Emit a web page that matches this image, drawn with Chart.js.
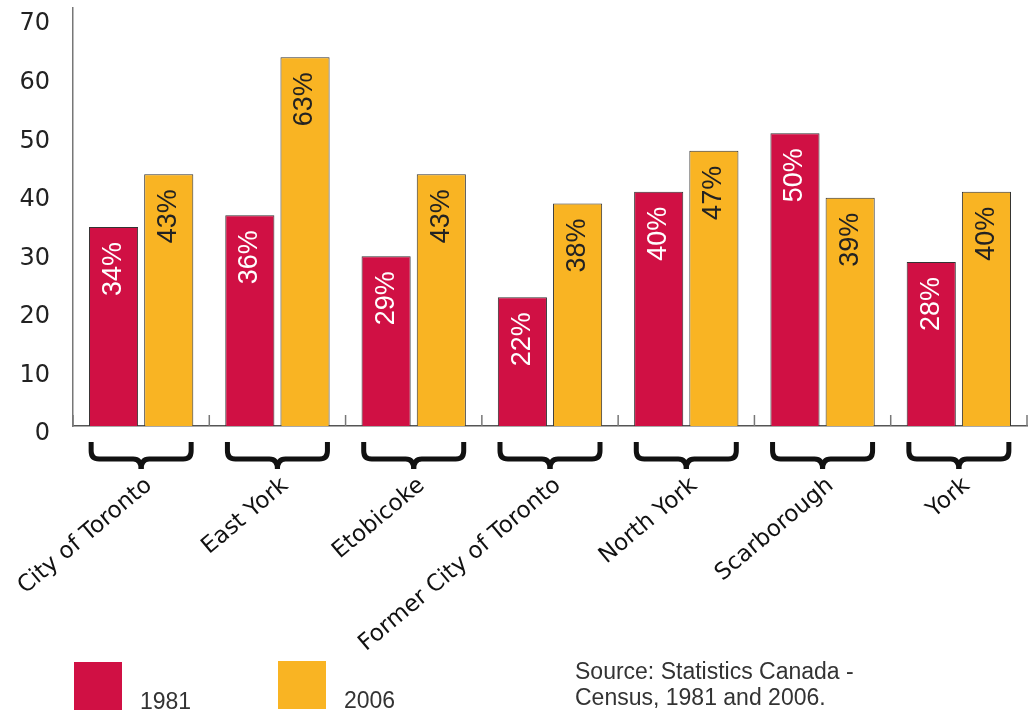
<!DOCTYPE html>
<html>
<head>
<meta charset="utf-8">
<script src="https://cdn.jsdelivr.net/npm/chart.js@4/dist/chart.umd.min.js"></script>
<style>
  body { margin: 0; background: #fff; }
  canvas { display: block; }
</style>
</head>
<body>
<canvas id="chart" width="1032" height="715"></canvas>
<script>
// données
const categories = ['City of Toronto', 'East York', 'Etobicoke', 'Former City of Toronto', 'North York', 'Scarborough', 'York'];
const values1981 = [34, 36, 29, 22, 40, 50, 28];
const values2006 = [43, 63, 43, 38, 47, 39, 40];
const yTicks = [0, 10, 20, 30, 40, 50, 60, 70];
const sourceLines = ['Source: Statistics Canada -', 'Census, 1981 and 2006.'];

const RED = '#d01044';
const YELLOW = '#f9b423';

// étiquettes verticales dans les barres, accolades, légende
const extras = {
  id: 'extras',
  afterDatasetsDraw(chart) {
    const ctx = chart.ctx;
    const textColors = ['#ffffff', '#222222'];
    ctx.save();
    ctx.font = '27px "Liberation Sans", Arial, sans-serif';
    ctx.textAlign = 'right';
    ctx.textBaseline = 'middle';
    chart.data.datasets.forEach((ds, di) => {
      chart.getDatasetMeta(di).data.forEach((bar, i) => {
        ctx.save();
        ctx.translate(bar.x, bar.y + 15);
        ctx.rotate(-Math.PI / 2);
        ctx.fillStyle = textColors[di];
        ctx.fillText(ds.data[i] + '%', 0, 0);
        ctx.restore();
      });
    });
    ctx.restore();
  },
  afterDraw(chart) {
    const ctx = chart.ctx;
    const x = chart.scales.x;
    const area = chart.chartArea;
    const w = (area.right - area.left) / categories.length;

    // petits traits de séparation
    ctx.save();
    ctx.strokeStyle = '#777';
    ctx.lineWidth = 1.5;
    for (let i = 0; i <= categories.length; i++) {
      const px = area.left + i * w;
      ctx.beginPath();
      ctx.moveTo(px, area.bottom);
      ctx.lineTo(px, area.bottom - 11);
      ctx.stroke();
    }

    // accolades
    ctx.strokeStyle = '#111';
    ctx.lineWidth = 5;
    const top = area.bottom + 16, mid = area.bottom + 33, bot = area.bottom + 43;
    categories.forEach((c, i) => {
      const cx = x.getPixelForValue(i);
      const half = 50, r = 8;
      [-1, 1].forEach(s => {
        const e = cx + s * half;
        ctx.beginPath();
        ctx.moveTo(e, top);
        ctx.lineTo(e, mid - r);
        ctx.quadraticCurveTo(e, mid, e - s * r, mid);
        ctx.lineTo(cx + s * r, mid);
        ctx.quadraticCurveTo(cx, mid, cx, bot);
        ctx.stroke();
      });
    });

    // légende
    ctx.font = '23px "Liberation Sans", Arial, sans-serif';
    ctx.textAlign = 'left';
    ctx.textBaseline = 'alphabetic';
    const leg = [[74, 662, 0], [278, 661, 1]];
    leg.forEach(([lx, ly, di]) => {
      const ds = chart.data.datasets[di];
      ctx.fillStyle = ds.backgroundColor;
      ctx.fillRect(lx, ly, 48, 48);
      ctx.fillStyle = '#333';
      ctx.fillText(ds.label, lx + 66, ly + 47);
    });
    ctx.fillText(sourceLines[0], 575, 679);
    ctx.fillText(sourceLines[1], 575, 705);
    ctx.restore();
  }
};

new Chart(document.getElementById('chart'), {
  type: 'bar',
  data: {
    labels: categories,
    datasets: [
      { label: '1981', data: values1981, backgroundColor: RED, borderColor: '#333', borderWidth: 1,
        categoryPercentage: 0.81, barPercentage: 0.89 },
      { label: '2006', data: values2006, backgroundColor: YELLOW, borderColor: '#333', borderWidth: 1,
        categoryPercentage: 0.81, barPercentage: 0.89 }
    ]
  },
  options: {
    responsive: false,
    animation: false,
    devicePixelRatio: 1,
    layout: { padding: { top: 8, right: 5, left: 0, bottom: 0 } },
    plugins: {
      legend: { display: false },
      tooltip: { enabled: false }
    },
    scales: {
      x: {
        grid: { display: false },
        border: { display: true, color: '#555', width: 1.5 },
        ticks: {
          color: '#111',
          font: { family: '"DejaVu Sans", sans-serif', size: 23 },
          maxRotation: 40,
          minRotation: 40,
          padding: 38,
          labelOffset: 8
        },
        afterFit(scale) {
          scale.height = 289;
          scale.paddingLeft = 0;
          scale.paddingRight = 0;
        }
      },
      y: {
        min: 0,
        max: 71.4,
        grid: { display: false },
        border: { display: true, color: '#777', width: 1.5 },
        afterBuildTicks(scale) { scale.ticks = yTicks.map(v => ({ value: v })); },
        ticks: {
          color: '#222',
          font: { family: '"DejaVu Sans", sans-serif', size: 24 },
          padding: 15,
          labelOffset: 8
        },
        afterFit(scale) {
          scale.width = 73;
          scale.paddingTop = 0;
          scale.paddingBottom = 0;
        }
      }
    }
  },
  plugins: [extras]
});
</script>
</body>
</html>
